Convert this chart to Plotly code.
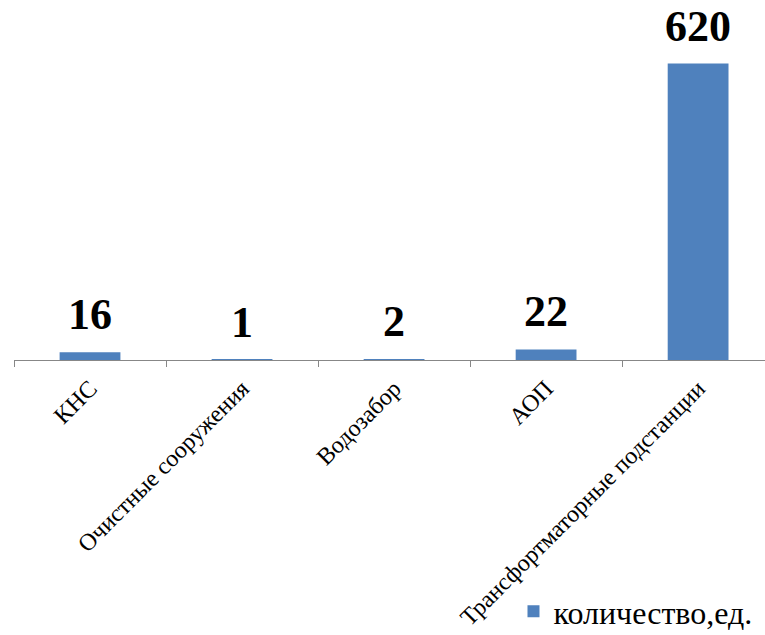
import plotly.graph_objects as go

categories = ["КНС", "Очистные сооружения", "Водозабор", "АОП", "Трансфортматорные подстанции"]
values = [16, 1, 2, 22, 620]
series_name = "количество,ед."

FONT = "Liberation Serif"

fig = go.Figure()
fig.add_trace(go.Bar(
    x=categories, y=values, name=series_name,
    marker=dict(color="#4F81BD", line=dict(width=0)),
    width=0.4, showlegend=True,
))

for c, v in zip(categories, values):
    fig.add_annotation(x=c, y=v, text=str(v), showarrow=False,
                       yanchor="bottom", yshift=11,
                       font=dict(family=FONT, size=44, color="black", weight="bold"))

fig.update_layout(
    width=765, height=635,
    margin=dict(l=14, r=0, t=0, b=275, autoexpand=False),
    paper_bgcolor="white", plot_bgcolor="white",
    font=dict(family=FONT, color="black"),
    bargap=0.6,
    xaxis=dict(
        range=[-0.5, 4.44], showline=True, linecolor="#878787", linewidth=1,
        ticks="outside", tickson="boundaries", ticklen=6, tickcolor="#878787",
        tickangle=-45, tickfont=dict(family=FONT, size=24, color="black"),
        ticklabelstandoff=4,
        showgrid=False, zeroline=False, automargin=False,
    ),
    yaxis=dict(range=[0, 753], visible=False, showgrid=False, zeroline=False),
    legend=dict(x=0.99, xanchor="right", y=-0.775, yanchor="bottom",
                font=dict(family=FONT, size=32, color="black"),
                bgcolor="rgba(0,0,0,0)", itemwidth=30),
    showlegend=True,
)

fig.write_html("out.html", post_script="document.body.style.margin='0';",
               config={"displayModeBar": False})
